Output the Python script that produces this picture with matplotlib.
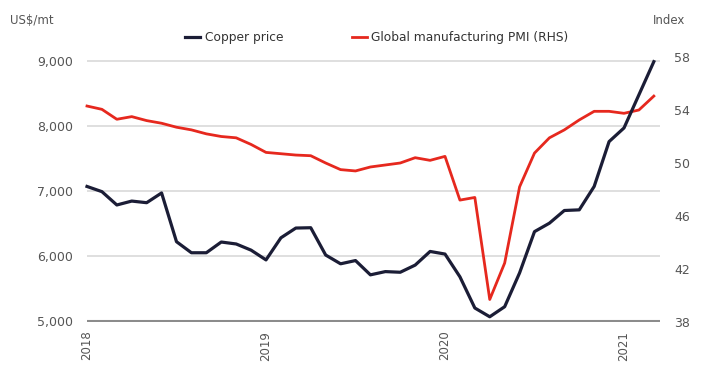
import matplotlib.pyplot as plt
import numpy as np

# monthly, Jan 2018 .. Mar 2021
copper = [7070, 6990, 6785, 6845, 6820, 6970, 6220, 6050, 6050, 6215, 6185, 6090,
          5940, 6280, 6430, 6435, 6015, 5880, 5930, 5710, 5760, 5750, 5860, 6070,
          6030, 5680, 5200, 5065, 5220, 5740, 6375, 6505, 6700, 6710, 7070, 7760,
          7970, 8480, 8990]
pmi = [54.3, 54.05, 53.3, 53.5, 53.2, 53.0, 52.7, 52.5, 52.2, 52.0, 51.9, 51.4,
       50.8, 50.7, 50.6, 50.55, 50.0, 49.5, 49.4, 49.7, 49.85, 50.0, 50.4, 50.2,
       50.5, 47.2, 47.4, 39.7, 42.45, 48.2, 50.75, 51.9, 52.5, 53.25, 53.9, 53.9,
       53.75, 54.0, 55.05]
left_ticks = [5000, 6000, 7000, 8000, 9000]
left_labels = ["5,000", "6,000", "7,000", "8,000", "9,000"]
right_ticks = [38, 42, 46, 50, 54, 58]
year_ticks = [2018, 2019, 2020, 2021]

months = 2018 + np.arange(len(copper)) / 12.0

navy = "#1b1d36"
red = "#e6281e"
grey = "#555555"

W, H = 705, 371
fig = plt.figure(figsize=(W / 100, H / 100), dpi=100)
ax = fig.add_axes([87/W, 50/H, 573/W, 260/H])
# right-hand scale runs a little taller than the left one
ax2 = fig.add_axes([87/W, 49/H, 573/W, 265/H], sharex=ax)
ax2.patch.set_visible(False)

l1, = ax.plot(months, copper, color=navy, lw=2.3, clip_on=False, zorder=3,
              solid_joinstyle="round")
l2, = ax2.plot(months, pmi, color=red, lw=2.0, clip_on=False, zorder=2,
               solid_joinstyle="round")
ax.set_zorder(2)
ax.patch.set_visible(False)
ax2.set_zorder(1)

ax.set_xlim(2018, 2018 + 573/179.0)
ax.set_ylim(5000, 9000)
ax2.set_ylim(38, 58)

for y in left_ticks[1:]:
    ax2.axhline((y - 5000) / 4000 * 19.62 + 38.075, color="#d9d9d9", lw=1.2, zorder=0)
ax2.axhline(38.075, color="#8c8c8c", lw=1.5, zorder=1)

ax.set_yticks(left_ticks)
ax.set_yticklabels(left_labels)
ax2.yaxis.tick_right()
ax2.set_yticks(right_ticks)
ax.set_xticks(year_ticks)
ax.set_xticklabels([str(y) for y in year_ticks], rotation=90, va="top")
ax2.tick_params(axis="x", bottom=False, labelbottom=False)

for a in (ax, ax2):
    for s in a.spines.values():
        s.set_visible(False)
ax.tick_params(axis="y", length=0, pad=10, labelsize=9, labelcolor=grey)
ax2.tick_params(axis="y", length=0, pad=10, labelsize=9, labelcolor=grey)
ax.tick_params(axis="x", length=0, pad=7, labelsize=8.5, labelcolor=grey)

fig.text(10/W, 1 - 20/H, "US$/mt", fontsize=8.5, color=grey, va="center")
fig.text(653/W, 1 - 20/H, "Index", fontsize=8.5, color=grey, va="center")

fig.legend([l1, l2], ["Copper price", "Global manufacturing PMI (RHS)"],
           loc="center", bbox_to_anchor=(377/W, 1 - 38/H), ncol=2,
           frameon=False, fontsize=8.8, handlelength=1.2, handletextpad=0.4,
           columnspacing=5.6, labelcolor="#333333")

fig.savefig("out.png", dpi=100)
